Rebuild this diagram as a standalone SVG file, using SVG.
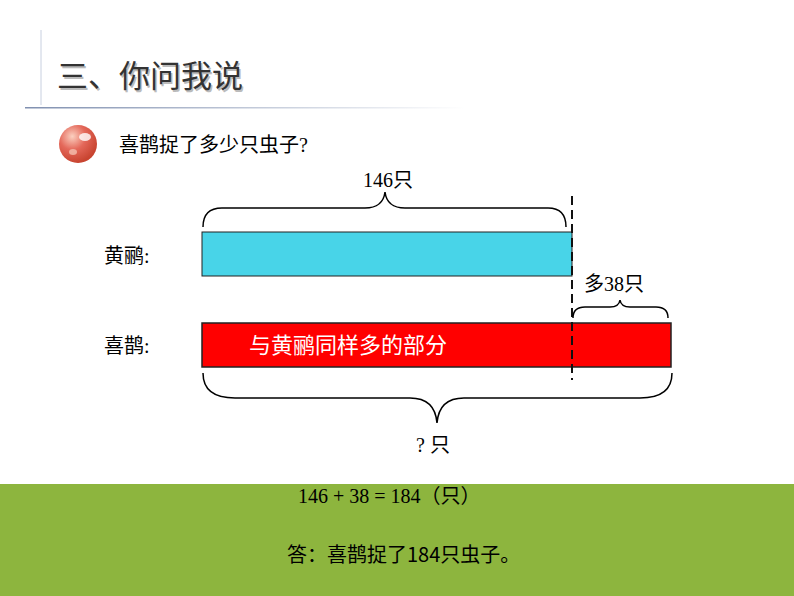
<svg xmlns="http://www.w3.org/2000/svg" width="794" height="596" viewBox="0 0 794 596">
<defs>
<style>
.t{font-family:"Liberation Serif","Noto Sans CJK SC",serif;fill:#000}
.s{font-family:"Noto Sans CJK SC",sans-serif}
.br{fill:none;stroke:#000;stroke-width:1.5}
</style>
<radialGradient id="ball" cx="0.35" cy="0.3" r="0.7">
<stop offset="0" stop-color="#fbd0c0"/><stop offset="0.5" stop-color="#e4685a"/><stop offset="1" stop-color="#c84430"/>
</radialGradient>
<linearGradient id="hl" x1="0" x2="1"><stop offset="0" stop-color="#8090b0"/><stop offset="1" stop-color="#8090b0" stop-opacity="0"/></linearGradient>
</defs>
<rect width="794" height="596" fill="#fff"/>
<g id="header">
<line x1="41" y1="30" x2="41" y2="105" stroke="#c8d0e0" stroke-width="1"/>
<rect x="25" y="107" width="440" height="1.5" fill="url(#hl)"/>
<text x="57" y="87" class="s" font-size="31" fill="#bbb" transform="translate(1.5,1.5)">三、你问我说</text>
<text x="57" y="87" class="s" font-size="31" fill="#333">三、你问我说</text>
<circle cx="78" cy="144" r="19" fill="url(#ball)"/>
<ellipse cx="85" cy="137" rx="6" ry="4" fill="#fff" opacity="0.8"/>
<ellipse cx="73" cy="152" rx="4" ry="3" fill="#f4c0b0" opacity="0.8"/>
<text x="119" y="152" class="t" font-size="20">喜鹊捉了多少只虫子?</text>
</g>
<g id="labels">
<text x="363" y="187" class="t" font-size="20">146只</text>
<text x="104" y="263" class="t" font-size="20">黄鹂:</text>
<text x="104" y="353" class="t" font-size="20">喜鹊:</text>
<text x="584" y="291" class="t" font-size="20">多38只</text>
<text x="416" y="452" class="t" font-size="20">? 只</text>
</g>
<g id="bars">
<rect x="202" y="232" width="370" height="44" fill="#48d4e8" stroke="#222" stroke-width="1"/>
<rect x="202" y="323" width="469" height="44" fill="#ff0000" stroke="#222" stroke-width="1.5"/>
<text x="249" y="353" class="s" font-size="22" fill="#fff">与黄鹂同样多的部分</text>
</g>
<g id="connectors">
<line x1="572" y1="196" x2="572" y2="380" stroke="#111" stroke-width="2" stroke-dasharray="9,5"/>
<path class="br" d="M203,227 Q203,208 222,208 L365,208 Q383,208 385,192 Q387,208 405,208 L548,208 Q566,208 566,227"/>
<path class="br" d="M573,318 Q573,307 585,307 L610,307 Q619,307 620,300 Q621,307 630,307 L656,307 Q668,307 668,318"/>
<path class="br" d="M203,373 Q203,398 235,398 L410,398 Q435,398 437,423 Q439,398 464,398 L640,398 Q672,398 672,373"/>
</g>
<g id="answer">
<rect x="0" y="484" width="794" height="112" fill="#8db53e"/>
<text x="298" y="503" class="t" font-size="20">146 + 38 = 184（只）</text>
<text x="287" y="562" class="s" font-size="20">答：喜鹊捉了184只虫子。</text>
</g>
</svg>
